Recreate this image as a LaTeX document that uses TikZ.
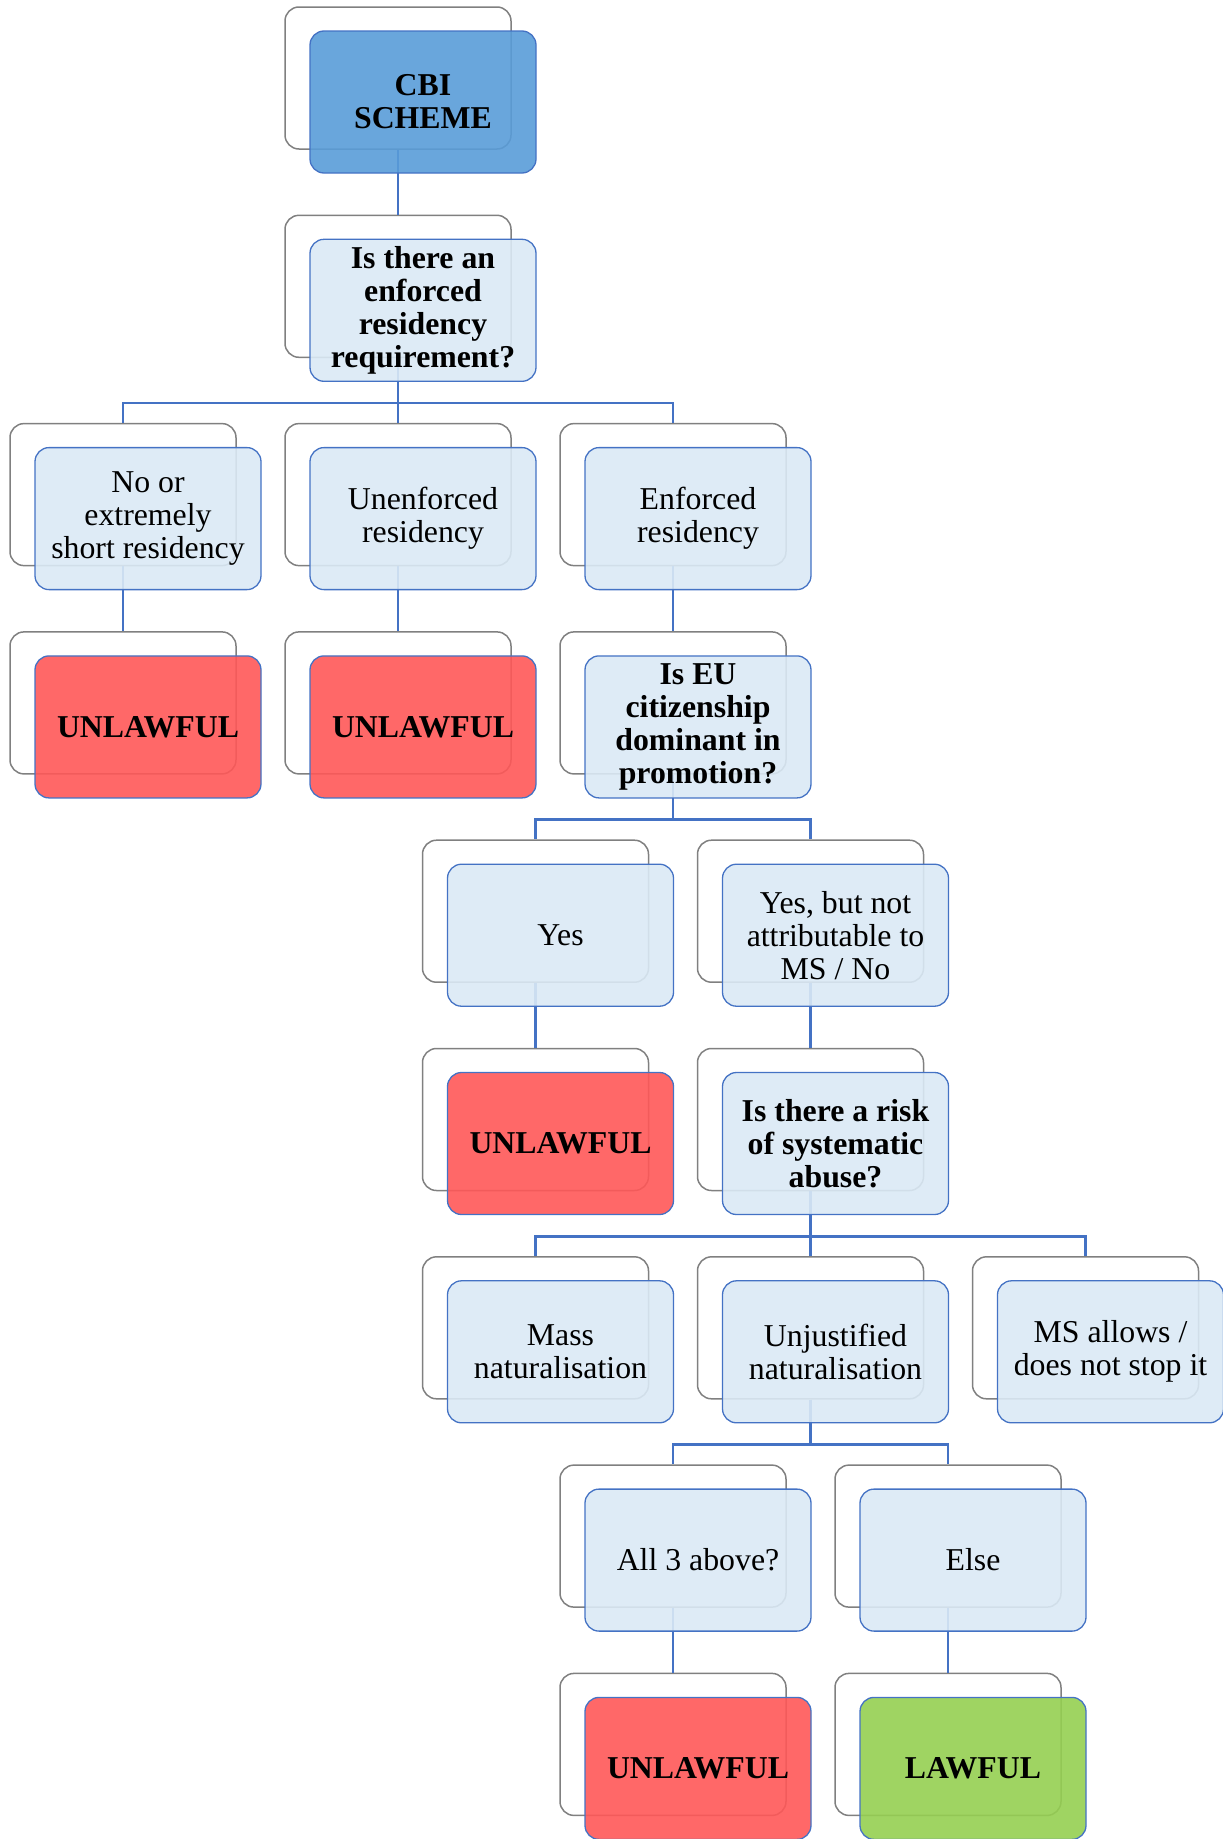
\documentclass[tikz,border=0pt]{standalone}
\usepackage{fontspec}
\setmainfont{Liberation Serif}
\usetikzlibrary{positioning,calc}
\definecolor{boxline}{RGB}{68,114,196}
\definecolor{framegray}{RGB}{128,128,128}
\definecolor{headfill}{RGB}{89,156,216}
\definecolor{softfill}{RGB}{218,233,245}
\definecolor{badfill}{RGB}{255,88,88}
\definecolor{goodfill}{RGB}{149,207,81}
\tikzset{
	every node/.style = {font=\fontsize{31.8}{33}\selectfont, inner sep = 2},
	every text node part/.style={align=center},
	frame/.style={draw=framegray, line width=1.5pt, rounded corners=14pt, minimum width=226pt, minimum height=142pt},
	card/.style={draw=boxline, line width=1.3pt, rounded corners=14pt, minimum width=226pt, minimum height=142pt, fill opacity=0.9, text opacity=1},
	plain/.style={card, fill=softfill},
	ask/.style={card, fill=softfill, font=\fontsize{31.8}{33}\selectfont\bfseries},
	head/.style={card, fill=headfill, font=\fontsize{31.8}{33}\selectfont\bfseries},
	bad/.style={card, fill=badfill, font=\fontsize{31.8}{33}\selectfont\bfseries},
	good/.style={card, fill=goodfill, font=\fontsize{31.8}{33}\selectfont\bfseries},
	link/.style={draw=boxline, line width=2.5pt},
	branch/.style={to path={-- ++(0,45) -| (\tikztotarget)}}
}
\begin{document}
\begin{tikzpicture}[x=1pt,y=-1pt]
		\useasboundingbox (0,0) rectangle (1223,1839);
		\node(cbi-b)[frame] at (398,78) {};
		\node(q1-b)[frame] at (398,286.3) {};
		\node(nores-b)[frame] at (123,494.6) {};
		\node(unenf-b)[frame] at (398,494.6) {};
		\node(enf-b)[frame] at (673,494.6) {};
		\node(un1-b)[frame] at (123,702.9) {};
		\node(un2-b)[frame] at (398,702.9) {};
		\node(q2-b)[frame] at (673,702.9) {};
		\node(yes-b)[frame] at (535.5,911.2) {};
		\node(yesbut-b)[frame] at (810.5,911.2) {};
		\node(un3-b)[frame] at (535.5,1119.5) {};
		\node(q3-b)[frame] at (810.5,1119.5) {};
		\node(mass-b)[frame] at (535.5,1327.8) {};
		\node(unjust-b)[frame] at (810.5,1327.8) {};
		\node(msallow-b)[frame] at (1085.5,1327.8) {};
		\node(all3-b)[frame] at (673,1536.1) {};
		\node(else-b)[frame] at (948,1536.1) {};
		\node(un4-b)[frame] at (673,1744.4) {};
		\node(lawful-b)[frame] at (948,1744.4) {};
		
		\path (cbi-b.south) edge[link] (q1-b.north);
		\path (q1-b.south) edge[link,branch] (nores-b.north) edge[link,branch] (unenf-b.north) edge[link,branch] (enf-b.north);
		\path (nores-b.south) edge[link] (un1-b.north);
		\path (unenf-b.south) edge[link] (un2-b.north);
		\path (enf-b.south) edge[link] (q2-b.north);
		\path (q2-b.south) edge[link,branch] (yes-b.north) edge[link,branch] (yesbut-b.north);
		\path (yes-b.south) edge[link] (un3-b.north);
		\path (yesbut-b.south) edge[link] (q3-b.north);
		\path (q3-b.south) edge[link,branch] (mass-b.north) edge[link,branch] (unjust-b.north) edge[link,branch] (msallow-b.north);
		\path (unjust-b.south) edge[link,branch] (all3-b.north) edge[link,branch] (else-b.north);
		\path (all3-b.south) edge[link] (un4-b.north);
		\path (else-b.south) edge[link] (lawful-b.north);
		
		\node(cbi)[head] at ([shift={(25,24)}]cbi-b) {CBI\\SCHEME};
		\node(q1)[ask] at ([shift={(25,24)}]q1-b) {Is there an\\enforced\\residency\\requirement?};
		\node(nores)[plain] at ([shift={(25,24)}]nores-b) {No or\\extremely\\short residency};
		\node(unenf)[plain] at ([shift={(25,24)}]unenf-b) {Unenforced\\residency};
		\node(enf)[plain] at ([shift={(25,24)}]enf-b) {Enforced\\residency};
		\node(un1)[bad] at ([shift={(25,24)}]un1-b) {UNLAWFUL};
		\node(un2)[bad] at ([shift={(25,24)}]un2-b) {UNLAWFUL};
		\node(q2)[ask] at ([shift={(25,24)}]q2-b) {Is EU\\citizenship\\dominant in\\promotion?};
		\node(yes)[plain] at ([shift={(25,24)}]yes-b) {Yes};
		\node(yesbut)[plain] at ([shift={(25,24)}]yesbut-b) {Yes, but not\\attributable to\\MS / No};
		\node(un3)[bad] at ([shift={(25,24)}]un3-b) {UNLAWFUL};
		\node(q3)[ask] at ([shift={(25,24)}]q3-b) {Is there a risk\\of systematic\\abuse?};
		\node(mass)[plain] at ([shift={(25,24)}]mass-b) {Mass\\naturalisation};
		\node(unjust)[plain] at ([shift={(25,24)}]unjust-b) {Unjustified\\naturalisation};
		\node(msallow)[plain] at ([shift={(25,24)}]msallow-b) {MS allows /\\does not stop it};
		\node(all3)[plain] at ([shift={(25,24)}]all3-b) {All 3 above?};
		\node(else)[plain] at ([shift={(25,24)}]else-b) {Else};
		\node(un4)[bad] at ([shift={(25,24)}]un4-b) {UNLAWFUL};
		\node(lawful)[good] at ([shift={(25,24)}]lawful-b) {LAWFUL};
\end{tikzpicture}
\end{document}
